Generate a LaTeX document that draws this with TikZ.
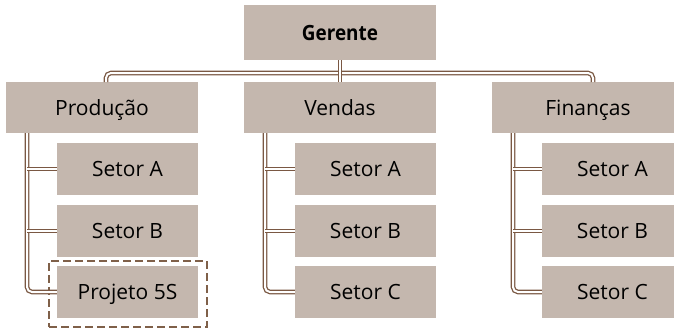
\documentclass[tikz,border=0pt]{standalone}
\usepackage{fontspec}
\setmainfont{Open Sans}
\definecolor{boxfill}{HTML}{C4B7AE}
\definecolor{linebrown}{HTML}{7A5843}
\definecolor{dashbrown}{HTML}{7F6049}
\begin{document}
\begin{tikzpicture}[x=1pt,y=-1pt,
  box/.style={fill=boxfill, draw=none, inner sep=0pt, anchor=center,
    text height=15pt, text depth=0pt,
    font=\fontsize{21}{24}\selectfont},
  lvl/.style={box, minimum width=192pt, minimum height=51pt},
  sect/.style={box, minimum width=141pt, minimum height=52pt},
  conn/.style={draw=linebrown, line width=1.3pt, double=white, double distance=2pt, rounded corners=5pt},
  focus/.style={draw=dashbrown, line width=2.2pt, dash pattern=on 8pt off 4pt}
]
\useasboundingbox (0,0) rectangle (674,329);
% top
\node[box, minimum width=192pt, minimum height=55pt, text height=16pt] (ger) at (340,32.5) {\scalebox{0.9}[1]{\bfseries Gerente}};
\node[lvl] (prod) at (102,107.5) {Produção};
\node[lvl] (vend) at (340,107.5) {Vendas};
\node[lvl] (fin) at (588,107.5) {Finanças};
% sectors
\node[sect] (pa) at (127.5,169) {Setor A};
\node[sect] (pb) at (127.5,231) {Setor B};
\node[sect] (pp) at (127.5,292) {Projeto 5S};
\node[sect] (va) at (365.5,169) {Setor A};
\node[sect] (vb) at (365.5,231) {Setor B};
\node[sect] (vc) at (365.5,292) {Setor C};
\node[sect] (fa) at (612.5,169) {Setor A};
\node[sect] (fb) at (612.5,231) {Setor B};
\node[sect] (fc) at (612.5,292) {Setor C};
% dashed highlight
\node[focus, minimum width=158pt, minimum height=66pt, inner sep=0pt] (hl) at (128,294) {};
% connectors top
\coordinate (bl) at (106,82);
\coordinate (br) at (593,82);
\draw[conn] (bl) -- (106,73) -- (593,73) -- (br);
\draw[conn] (ger.south) -- (vend.north);
% trunks
\foreach \p/\x/\a/\b/\c in {prod/27/pa/pb/pp, vend/265/va/vb/vc, fin/513/fa/fb/fc}{
  \draw[conn] (\x,133) |- (\c.west);
  \draw[conn] (\x,169) -- (\a.west);
  \draw[conn] (\x,231) -- (\b.west);
}
\end{tikzpicture}
\end{document}
